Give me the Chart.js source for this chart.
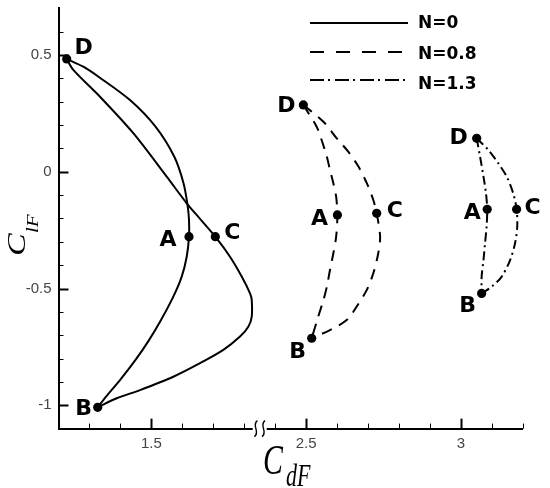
<!DOCTYPE html>
<html>
<head>
<meta charset="utf-8">
<script src="https://cdn.jsdelivr.net/npm/chart.js@4/dist/chart.umd.min.js"></script>
<style>
html,body{margin:0;padding:0;background:#fff;}
#wrap{width:550px;height:488px;position:relative;}
</style>
</head>
<body>
<div id="wrap"><canvas id="c" width="550" height="488"></canvas></div>
<script>
// ---------- data ----------
const seriesNames = ["N=0", "N=0.8", "N=1.3"];
const pointLetters = ["D", "A", "C", "B"];

// N=0 : D -> A -> B
const n0InnerX = [1.2265, 1.2801, 1.3292, 1.4310, 1.5134, 1.5742, 1.6039, 1.6168, 1.6216, 1.6216, 1.6142, 1.5981, 1.5709, 1.5312, 1.4924, 1.4488, 1.3987, 1.3535, 1.3267];
const n0InnerY = [0.483, 0.450, 0.407, 0.307, 0.193, 0.064, -0.049, -0.142, -0.207, -0.278, -0.364, -0.449, -0.535, -0.635, -0.721, -0.806, -0.892, -0.963, -1.009];
// N=0 : B -> C -> D
const n0OuterX = [1.3267, 1.3880, 1.4633, 1.5709, 1.6572, 1.7325, 1.7864, 1.8132, 1.8242, 1.8242, 1.8187, 1.7919, 1.7541, 1.7066, 1.6572, 1.6142, 1.5496, 1.4417, 1.3341, 1.2478, 1.2265];
const n0OuterY = [-1.009, -0.970, -0.935, -0.878, -0.820, -0.763, -0.706, -0.664, -0.621, -0.549, -0.521, -0.449, -0.364, -0.278, -0.2015, -0.135, -0.021, 0.165, 0.321, 0.436, 0.483];
const n0PointX = [1.2265, 1.6216, 1.7066, 1.3267];
const n0PointY = [0.483, -0.278, -0.278, -1.009];

// N=0.8 : D -> A -> B
const n08InnerX = [2.491, 2.534, 2.550, 2.567, 2.577, 2.588, 2.597, 2.601, 2.597, 2.588, 2.577, 2.567, 2.556, 2.539, 2.518];
const n08InnerY = [0.286, 0.193, 0.136, 0.064, 0.008, -0.049, -0.107, -0.185, -0.278, -0.349, -0.421, -0.492, -0.549, -0.621, -0.713];
// N=0.8 : D -> C -> B
const n08OuterX = [2.491, 2.556, 2.599, 2.636, 2.669, 2.696, 2.717, 2.728, 2.739, 2.733, 2.717, 2.696, 2.663, 2.631, 2.577, 2.518];
const n08OuterY = [0.286, 0.214, 0.143, 0.086, 0.022, -0.049, -0.121, -0.178, -0.278, -0.349, -0.435, -0.506, -0.578, -0.635, -0.678, -0.713];
const n08PointX = [2.491, 2.601, 2.728, 2.518];
const n08PointY = [0.286, -0.185, -0.178, -0.713];

// N=1.3 : D -> A -> B
const n13InnerX = [3.051, 3.062, 3.073, 3.081, 3.085, 3.083, 3.078, 3.073, 3.067, 3.067];
const n13InnerY = [0.143, 0.064, -0.021, -0.092, -0.161, -0.235, -0.306, -0.378, -0.449, -0.521];
// N=1.3 : D -> C -> B
const n13OuterX = [3.051, 3.089, 3.121, 3.148, 3.169, 3.180, 3.182, 3.175, 3.159, 3.132, 3.100, 3.067];
const n13OuterY = [0.143, 0.093, 0.036, -0.021, -0.092, -0.161, -0.235, -0.306, -0.378, -0.449, -0.492, -0.521];
const n13PointX = [3.051, 3.085, 3.180, 3.067];
const n13PointY = [0.143, -0.161, -0.161, -0.521];

// axis ticks
const xTickValues = [1.5, 2.5, 3];
const xTickLabels = ["1.5", "2.5", "3"];
const yTickValues = [-1, -0.5, 0, 0.5];
const yTickLabels = ["-1", "-0.5", "0", "0.5"];

// ---------- broken x axis: values beyond the break shift left ----------
const BREAK_FROM = 2.0;   // values above this are on the right part
const BREAK_GAP = 0.5;    // removed span (2.5 drawn where 2.0 would be)
const BREAK_MARK = 1.85;  // where the break symbol sits (display units)
function brk(x) { return x > BREAK_FROM ? x - BREAK_GAP : x; }
function pts(xs, ys) { return xs.map((x, i) => ({ x: brk(x), y: ys[i] })); }

// ---------- styles ----------
const styles = [
  { dash: [], labelOff: [[17, -12], [-21, 3], [17, -4], [-14, 1]] },
  { dash: [11, 8], labelOff: [[-17, 0], [-18, 3], [18, -3], [-14, 13]] },
  { dash: [9, 4, 2, 4], labelOff: [[-18, -1], [-15, 3], [16, -2], [-14, 12]] }
];
const legendDash = [[], [14, 12], [14, 4, 2, 5]];

const seriesData = [
  [n0InnerX, n0InnerY, n0OuterX, n0OuterY, n0PointX, n0PointY],
  [n08InnerX, n08InnerY, n08OuterX, n08OuterY, n08PointX, n08PointY],
  [n13InnerX, n13InnerY, n13OuterX, n13OuterY, n13PointX, n13PointY]
];

const datasets = [];
const pointDatasetIndex = [];
seriesData.forEach((s, k) => {
  const common = { showLine: true, borderColor: '#000', borderWidth: 2, borderDash: styles[k].dash,
    pointRadius: 0, pointHoverRadius: 0, tension: 0.3, fill: false, label: seriesNames[k] };
  datasets.push(Object.assign({ data: pts(s[0], s[1]) }, common));
  datasets.push(Object.assign({ data: pts(s[2], s[3]) }, common));
  pointDatasetIndex.push(datasets.length);
  datasets.push({ data: pts(s[4], s[5]), showLine: false, pointRadius: 4.6, pointHoverRadius: 4.6,
    pointBackgroundColor: '#000', pointBorderColor: '#000', pointBorderWidth: 0, label: seriesNames[k] + ' points' });
});

// ---------- decoration plugin ----------
const decor = {
  id: 'decor',
  afterDraw(chart) {
    const ctx = chart.ctx;
    const xs = chart.scales.x, ys = chart.scales.y;
    const ca = chart.chartArea;
    ctx.save();
    // inward ticks
    ctx.strokeStyle = '#000';
    for (let i = -10; i <= 6; i++) {
      const v = i / 10;
      const major = (i % 5 === 0);
      const py = Math.round(ys.getPixelForValue(v)) + 0.5;
      ctx.lineWidth = major ? 2 : 1;
      ctx.beginPath();
      ctx.moveTo(ca.left, py);
      ctx.lineTo(ca.left + (major ? 10 : 5), py);
      ctx.stroke();
    }
    for (let i = 13; i <= 27; i++) {
      const v = i / 10;
      const major = (i === 15 || i === 20 || i === 25);
      const px = Math.round(xs.getPixelForValue(v)) + 0.5;
      ctx.lineWidth = major ? 2 : 1;
      ctx.beginPath();
      ctx.moveTo(px, ca.bottom);
      ctx.lineTo(px, ca.bottom - (major ? 10 : 5));
      ctx.stroke();
    }
    // axis break symbol
    const bx = xs.getPixelForValue(BREAK_MARK);
    const by = ca.bottom;
    ctx.fillStyle = '#fff';
    ctx.fillRect(bx - 7, by - 3, 14, 6);
    ctx.lineWidth = 1.4;
    [-3.8, 3.8].forEach(dx => {
      const x0 = bx + dx;
      ctx.beginPath();
      ctx.moveTo(x0 - 1.5, by + 8);
      ctx.bezierCurveTo(x0 + 5, by + 3, x0 - 5, by - 3, x0 + 1.5, by - 8);
      ctx.stroke();
    });
    // point letters
    ctx.fillStyle = '#000';
    ctx.font = 'bold 22px "DejaVu Sans"';
    ctx.textAlign = 'center';
    ctx.textBaseline = 'middle';
    pointDatasetIndex.forEach((di, k) => {
      const meta = chart.getDatasetMeta(di);
      meta.data.forEach((el, i) => {
        const off = styles[k].labelOff[i];
        ctx.fillText(pointLetters[i], el.x + off[0], el.y + off[1] + 1);
      });
    });
    // legend
    const lineY = [23, 52, 80], textY = [23, 54, 84];
    seriesNames.forEach((name, k) => {
      ctx.setLineDash(legendDash[k]);
      ctx.lineWidth = 2;
      ctx.beginPath();
      ctx.moveTo(310, lineY[k]);
      ctx.lineTo(408, lineY[k]);
      ctx.stroke();
      ctx.setLineDash([]);
      ctx.font = 'bold 17px "DejaVu Sans"';
      ctx.textAlign = 'left';
      ctx.textBaseline = 'middle';
      ctx.fillText(name, 418, textY[k] + 1);
    });
    // axis titles
    ctx.textAlign = 'left';
    ctx.textBaseline = 'alphabetic';
    // x title  C_dF
    ctx.save();
    ctx.translate(263, 473.5);
    ctx.scale(0.71, 1);
    ctx.font = 'italic 42px "Liberation Serif"';
    ctx.fillText('C', 0, 0);
    ctx.restore();
    ctx.save();
    ctx.translate(286, 486);
    ctx.scale(0.71, 1);
    ctx.font = 'italic 31px "Liberation Serif"';
    ctx.fillText('dF', 0, 0);
    ctx.restore();
    // y title  C_lF (rotated)
    ctx.save();
    ctx.translate(25, 256);
    ctx.rotate(-Math.PI / 2);
    ctx.scale(1, 0.75);
    ctx.font = 'italic 34px "Liberation Serif"';
    ctx.fillText('C', 0, 0);
    ctx.restore();
    ctx.save();
    ctx.translate(38, 233);
    ctx.rotate(-Math.PI / 2);
    ctx.scale(1, 0.75);
    ctx.font = 'italic 21px "Liberation Serif"';
    ctx.fillText('lF', 0, 0);
    ctx.restore();
    ctx.restore();
  }
};

new Chart(document.getElementById('c'), {
  type: 'scatter',
  data: { datasets },
  options: {
    responsive: false,
    animation: false,
    events: [],
    layout: { padding: { top: 8.3, right: 27.2, left: 0, bottom: 0 } },
    plugins: { legend: { display: false }, tooltip: { enabled: false } },
    scales: {
      x: {
        type: 'linear', min: 1.2, max: 2.7,
        grid: { display: false, drawTicks: false },
        border: { display: true, color: '#000', width: 2 },
        afterBuildTicks: (s) => { s.ticks = xTickValues.map(v => ({ value: brk(v) })); },
        afterFit: (s) => { s.height = 59.4; s.paddingLeft = 0; s.paddingRight = 0; },
        ticks: {
          padding: 6, color: '#444',
          font: { family: '"Liberation Sans", Arial', size: 15 },
          maxRotation: 0, autoSkip: false,
          callback: (v, i) => xTickLabels[i]
        }
      },
      y: {
        type: 'linear', min: -1.1, max: 0.7,
        grid: { display: false, drawTicks: false },
        border: { display: true, color: '#000', width: 2 },
        afterBuildTicks: (s) => { s.ticks = yTickValues.map(v => ({ value: v })); },
        afterFit: (s) => { s.width = 58.5; s.paddingTop = 0; s.paddingBottom = 0; },
        ticks: {
          padding: 7, color: '#444',
          font: { family: '"Liberation Sans", Arial', size: 15 },
          autoSkip: false,
          callback: (v, i) => yTickLabels[i]
        }
      }
    }
  },
  plugins: [decor]
});
</script>
</body>
</html>
